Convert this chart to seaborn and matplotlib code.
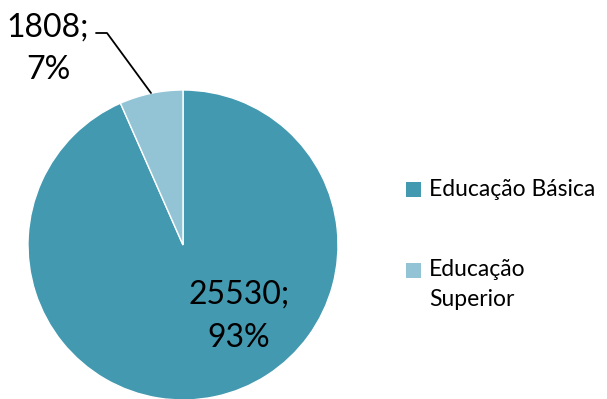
import matplotlib
matplotlib.use("Agg")
import matplotlib.pyplot as plt
from matplotlib.patches import Rectangle
import seaborn as sns

categories = ["Educação Básica", "Educação\nSuperior"]
values = [25530, 1808]
percents = ["93%", "7%"]
colors = ["#4399B0", "#93C4D6"]

sns.set_theme(style="white")
plt.rcParams["font.family"] = ["Lato", "DejaVu Sans"]

W, H = 607, 399
fig = plt.figure(figsize=(W / 100, H / 100), dpi=100)
ax = fig.add_axes([28 / W, -1 / H, 310 / W, 310 / H])

wedges, _ = ax.pie(
    values,
    colors=colors,
    startangle=90,
    counterclock=False,
    wedgeprops=dict(edgecolor="white", linewidth=1),
)
ax.set_xlim(-1, 1)
ax.set_ylim(-1, 1)
ax.set_aspect("equal")

# data labels
lab = [f"{v};\n{p}" for v, p in zip(values, percents)]
ax.text(0.36, -0.46, lab[0], ha="center", va="center", fontsize=23,
        linespacing=1.55, color="black")
# outside label with leader line (figure pixel coords)
fig.text(48 / W, 1 - 49 / H, lab[1], ha="center", va="center", fontsize=23,
         linespacing=1.5, color="black")
fig.add_artist(plt.Line2D([96 / W, 107 / W, 151 / W],
                          [1 - 33 / H, 1 - 33 / H, 1 - 93 / H],
                          color="black", lw=1.3))

# legend: handle aligned with first text line
leg_y = [189.5, 270.5]
for w, name, y in zip(wedges, categories, leg_y):
    fig.add_artist(Rectangle((406 / W, 1 - (y + 7.5) / H), 15 / W, 15 / H,
                             transform=fig.transFigure,
                             facecolor=w.get_facecolor(), edgecolor="none"))
    multi = "\n" in name
    fig.text(429 / W, 1 - (y - 12 if multi else y) / H, name, ha="left",
             va="top" if multi else "center",
             fontsize=16.5, color="black", linespacing=1.55,
             transform=fig.transFigure)
plt.savefig("out.png", dpi=100)
